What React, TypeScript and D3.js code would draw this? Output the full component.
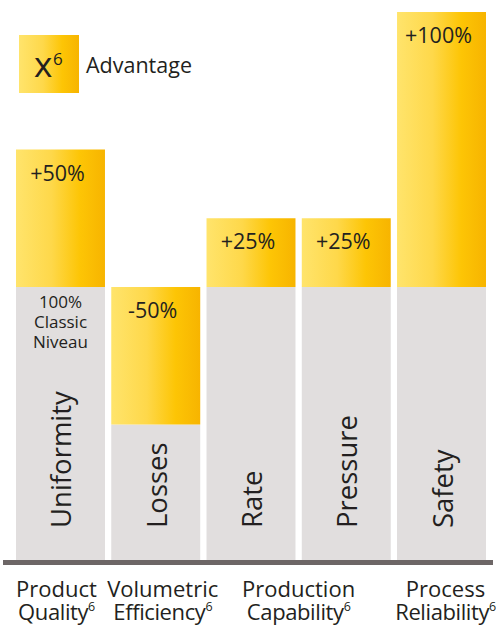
import React from "react";
import * as d3 from "d3";

const categories = ["Uniformity", "Losses", "Rate", "Pressure", "Safety"];
const classicLevel = 100;
const advantageValues = [150, 50, 125, 125, 200];
const changeLabels = ["+50%", "-50%", "+25%", "+25%", "+100%"];
const groupLine1 = ["Product", "Volumetric", "Production", "Process"];
const groupLine2 = ["Quality", "Efficiency", "Capability", "Reliability"];
const groupBars = [[0], [1], [2, 3], [4]];
const groupDx = [-4, 7, 0, 4];
const classicNote = ["100%", "Classic", "Niveau"];

const W = 496;
const H = 627;
const FONT = "'Open Sans', 'Noto Sans', sans-serif";
const TEXT = "#231f20";

export default function App() {
  const x = d3.scaleBand<string>().domain(categories).range([16, 486]).paddingInner(0.066).paddingOuter(0);
  const y = d3.scaleLinear().domain([0, 200]).range([562, 12]);
  const bw = x.bandwidth();

  return (
    <svg width={W} height={H} style={{ position: "absolute", left: 0, top: 0, display: "block" }}>
      <defs>
        <linearGradient id="gold" x1="0" y1="0" x2="1" y2="0">
          <stop offset="0" stopColor="#ffe46c" />
          <stop offset="0.4" stopColor="#fed84a" />
          <stop offset="0.72" stopColor="#fdc505" />
          <stop offset="1" stopColor="#f7b400" />
        </linearGradient>
      </defs>
      <rect x={0} y={0} width={W} height={H} fill="#ffffff" />

      {/* legend */}
      <rect x={19} y={35} width={60} height={58} fill="url(#gold)" />
      <text x={34} y={77} fontFamily={FONT} fontSize={35} fill={TEXT}>x</text>
      <text x={53} y={65} fontFamily={FONT} fontSize={17} fill={TEXT}>6</text>
      <text x={86} y={73} fontFamily={FONT} fontSize={21.5} fill={TEXT}>Advantage</text>

      {categories.map((c, i) => {
        const v = advantageValues[i];
        const lo = Math.min(v, classicLevel);
        const hi = Math.max(v, classicLevel);
        const bx = x(c) as number;
        const cx = bx + bw / 2;
        return (
          <g key={c}>
            <rect x={bx} y={y(lo)} width={bw} height={y(0) - y(lo)} fill="#e1dede" />
            <rect x={bx} y={y(hi)} width={bw} height={y(lo) - y(hi)} fill="url(#gold)" />
            <text x={cx - 3} y={y(hi) + 31} textAnchor="middle" fontFamily={FONT} fontSize={21.5} fill={TEXT}>
              {changeLabels[i]}
            </text>
            <text
              transform={`translate(${cx + 11},528) rotate(-90)`}
              fontFamily={FONT}
              fontSize={27.5}
              fill={TEXT}
            >
              {c}
            </text>
          </g>
        );
      })}

      {/* classic note in first bar */}
      {classicNote.map((t, k) => (
        <text
          key={t}
          x={(x(categories[0]) as number) + bw / 2}
          y={y(classicLevel) + 21 + k * 20}
          textAnchor="middle"
          fontFamily={FONT}
          fontSize={17}
          fill={TEXT}
        >
          {t}
        </text>
      ))}

      {/* baseline */}
      <line x1={3} x2={493} y1={562.5} y2={562.5} stroke="#6d6666" strokeWidth={5} />

      {/* group labels */}
      {groupLine1.map((t, g) => {
        const centers = groupBars[g].map((b) => (x(categories[b]) as number) + bw / 2);
        const gx = (d3.mean(centers) as number) + groupDx[g];
        return (
          <g key={t}>
            <text x={gx} y={597} textAnchor="middle" fontFamily={FONT} fontSize={22} fill={TEXT}>
              {t}
            </text>
            <text x={gx} y={620} textAnchor="middle" fontFamily={FONT} fontSize={22} letterSpacing={-0.4} fill={TEXT}>
              {groupLine2[g]}
              <tspan fontSize={12.5} dy={-9}>6</tspan>
            </text>
          </g>
        );
      })}
    </svg>
  );
}
